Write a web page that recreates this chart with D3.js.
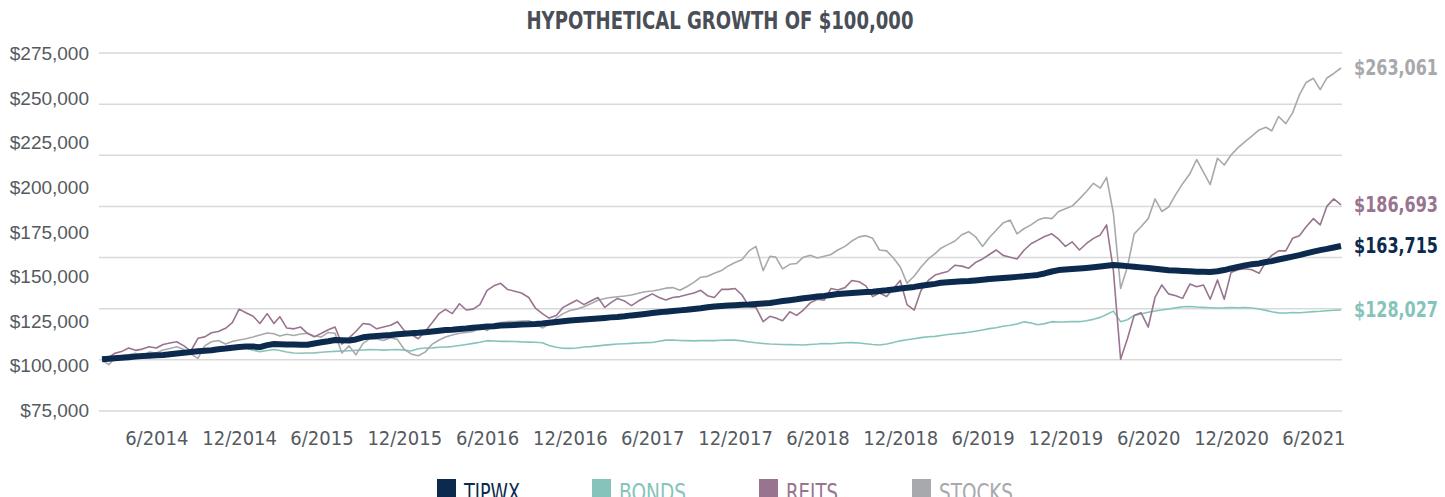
<!DOCTYPE html>
<html>
<head>
<meta charset="utf-8">
<script src="https://cdn.jsdelivr.net/npm/d3@7"></script>
<style>
  html, body { margin: 0; padding: 0; background: #fff; }
  svg { display: block; }
  .cond { font-family: "Liberation Sans Narrow", "DejaVu Sans Condensed", "Arial Narrow", sans-serif; }
</style>
</head>
<body>
<div id="graph"></div>
<script>
// Valeurs, en milliers de dollars, un point tous les demi-mois (fév. 2014 -> août 2021)

const seriesNames = ['TIPWX', 'BONDS', 'REITS', 'STOCKS']

const tipwx = [
  100.5,100.8,101.1,101.4,101.7,102.0,102.3,102.5,102.8,102.9,
  103.3,103.7,104.1,104.6,105.0,105.3,105.6,106.1,106.5,107.0,
  107.4,107.6,107.6,107.3,108.4,109.0,108.9,108.8,108.7,108.6,
  108.6,109.3,110.0,110.6,111.3,111.2,111.0,111.6,112.8,113.2,
  113.5,113.8,114.1,114.5,114.8,115.1,115.3,115.6,116.0,116.4,
  116.8,117.0,117.4,117.7,118.1,118.4,118.8,119.0,119.3,119.5,
  119.7,119.9,120.0,120.2,120.5,120.9,121.3,121.7,122.1,122.4,
  122.7,123.0,123.3,123.6,123.9,124.1,124.5,125.0,125.4,125.8,
  126.3,126.7,127.1,127.4,127.8,128.1,128.6,129.0,129.5,130.0,
  130.3,130.5,130.7,130.9,131.1,131.4,131.7,131.9,132.4,133.0,
  133.5,134.0,134.6,135.0,135.5,135.9,136.4,136.9,137.2,137.5,
  137.8,138.0,138.2,138.6,139.0,139.5,140.0,140.4,140.9,141.5,
  142.1,142.6,143.2,143.5,143.8,144.0,144.2,144.5,144.9,145.3,
  145.6,145.9,146.2,146.5,146.8,147.2,147.6,148.4,149.5,150.3,
  150.6,150.9,151.2,151.5,151.9,152.3,152.7,153.1,152.8,152.5,
  152.2,151.8,151.4,151.0,150.6,150.2,150.0,149.8,149.6,149.4,
  149.3,149.2,149.6,150.3,151.2,152.0,152.9,153.5,154.0,154.8,
  155.3,156.2,157.0,157.8,158.6,159.6,160.6,161.4,162.1,162.9,
  163.715
]

const bonds = [
  100.0,100.4,100.8,101.2,101.6,101.9,102.3,102.6,102.9,103.1,
  103.3,103.4,103.6,103.9,104.4,104.8,105.2,105.6,105.9,106.2,
  106.4,106.8,105.6,104.8,105.4,106.0,105.4,104.6,104.0,103.9,
  104.0,104.1,104.4,104.7,104.9,105.1,105.3,105.5,105.7,105.9,
  105.8,105.6,105.8,106.0,105.6,105.1,106.4,106.8,106.9,107.2,
  107.4,107.6,108.2,108.8,109.4,110.0,110.9,110.7,110.5,110.5,
  110.4,110.2,110.1,110.0,109.7,108.2,107.2,106.7,106.6,106.8,
  107.4,107.6,108.0,108.4,108.7,109.0,109.2,109.4,109.6,109.8,
  109.9,110.6,111.2,111.3,111.0,110.9,110.8,110.9,111.0,110.9,
  111.1,111.2,111.2,110.8,110.2,109.7,109.3,109.0,108.9,108.8,
  108.7,108.6,108.5,108.8,109.0,109.3,109.2,109.5,109.7,109.8,
  109.6,109.2,108.8,108.5,109.0,109.9,110.8,111.4,112.0,112.6,
  113.1,113.3,113.8,114.3,114.8,115.1,115.6,116.2,116.9,117.6,
  118.1,118.9,119.5,120.2,121.4,120.8,119.8,120.4,121.5,121.3,
  121.4,121.6,121.5,122.0,122.8,123.9,125.5,127.4,121.5,122.6,
  125.0,125.8,126.8,127.5,128.0,128.6,129.2,129.8,130.0,129.7,
  129.5,129.3,129.1,129.2,129.4,129.3,129.4,129.1,128.6,127.8,
  127.0,126.4,126.3,126.6,126.5,126.8,127.1,127.3,127.6,127.9,
  128.027
]

const reits = [
  100.0,101.5,103.8,104.8,106.8,105.5,106.2,107.5,106.8,108.8,
  109.6,110.3,108.0,105.0,112.2,113.0,115.3,116.0,117.8,121.0,
  128.5,126.5,124.5,120.5,126.0,120.5,124.3,118.0,117.5,118.5,
  115.0,113.0,115.0,117.0,118.5,109.0,112.5,116.0,120.5,120.0,
  117.5,118.5,119.5,121.5,116.5,114.5,112.0,116.0,121.0,126.0,
  128.4,126.0,131.5,128.0,128.5,131.0,139.0,141.5,142.9,139.5,
  138.5,137.5,135.0,129.0,126.0,123.5,125.0,129.5,131.5,133.5,
  131.0,133.0,135.0,129.5,132.0,134.5,133.0,130.5,133.0,135.0,
  137.0,135.0,133.6,135.0,135.5,136.5,137.5,139.0,136.0,135.0,
  139.5,139.5,140.0,136.5,129.9,129.5,121.5,124.5,123.5,122.0,
  127.0,125.0,128.0,132.0,134.0,133.5,140.0,139.2,140.5,144.5,
  143.8,141.5,135.5,137.5,135.5,140.0,144.5,131.0,128.0,139.0,
  144.5,147.5,148.5,149.5,153.0,152.5,151.3,154.5,156.5,159.0,
  161.5,158.5,157.5,156.5,161.5,165.0,167.0,169.0,170.5,167.5,
  163.5,166.0,161.5,165.0,168.0,169.9,175.5,150.0,100.5,112.0,
  125.0,126.5,118.5,135.0,142.0,137.0,136.0,134.5,142.5,141.0,
  142.0,134.0,144.8,134.0,149.0,150.5,151.0,150.5,148.5,155.0,
  158.5,161.0,161.0,168.0,169.5,174.5,179.0,175.5,186.0,190.0,
  186.693
]

const stocks = [
  100.0,97.5,101.0,102.5,103.0,103.9,102.5,104.5,104.0,105.7,
  106.5,107.5,106.0,103.5,101.0,108.0,110.3,111.0,109.0,110.5,
  111.3,112.0,113.0,114.1,115.2,114.8,113.5,114.5,113.8,114.6,
  115.0,113.5,113.0,115.5,115.0,104.0,108.0,103.0,109.4,112.0,
  111.8,111.0,112.5,111.5,106.0,103.5,102.5,104.5,109.0,111.3,
  113.0,114.1,115.0,115.5,116.0,118.5,116.5,120.3,121.0,121.5,
  121.5,121.8,122.0,120.5,118.0,120.0,123.5,126.0,127.7,128.5,
  129.8,131.5,133.4,134.4,135.0,135.4,135.8,136.4,137.4,138.2,
  138.6,139.3,140.2,140.5,139.0,141.0,143.4,146.3,146.8,148.5,
  150.0,152.6,154.5,156.0,161.0,163.5,150.0,158.0,157.5,151.0,
  153.5,154.0,157.5,158.5,157.0,158.0,159.0,161.5,163.5,166.5,
  168.8,169.5,168.0,161.5,161.0,157.0,152.0,143.0,147.0,152.0,
  156.5,159.5,162.5,164.5,166.5,170.0,171.7,169.0,163.5,168.5,
  172.5,176.5,178.2,170.5,173.5,175.5,178.2,179.5,179.0,183.0,
  184.5,186.0,190.0,194.0,198.7,196.0,202.0,182.0,140.0,152.0,
  170.5,174.5,179.0,190.0,183.0,185.5,192.5,198.5,204.0,212.0,
  205.0,198.0,212.7,208.9,214.5,218.5,222.0,225.0,228.5,230.0,
  228.0,236.0,232.0,238.0,248.0,255.0,257.3,251.0,257.5,260.0,
  263.061
]

const yTicks = [75, 100, 125, 150, 175, 200, 225, 250, 275]
const xTickLabels = ['6/2014','12/2014','6/2015','12/2015','6/2016','12/2016','6/2017',
  '12/2017','6/2018','12/2018','6/2019','12/2019','6/2020','12/2020','6/2021']

//---------------------------------------------------------------------------------------

// Dates : le 1er et le 16 de chaque mois

const dates = d3.utcMonth
  .range(new Date(Date.UTC(2014, 1, 1)), new Date(Date.UTC(2021, 8, 1)))
  .flatMap(m => [m, new Date(Date.UTC(m.getUTCFullYear(), m.getUTCMonth(), 16))])
  .slice(0, tipwx.length)

const palette = {
  'TIPWX': '#0c2a4d',
  'BONDS': '#86c4bb',
  'REITS': '#98748f',
  'STOCKS': '#a7a9ac'
}

const seriesData = {
  'TIPWX': tipwx,
  'BONDS': bonds,
  'REITS': reits,
  'STOCKS': stocks
}

//---------------------------------------------------------------------------------------

// Canevas SVG

const width = 1445
const height = 497

const svg = d3.select('#graph')
  .append('svg')
  .attr('width', width)
  .attr('height', height)
  .attr('viewBox', [0, 0, width, height])

// Échelles

const scaleX = d3.scaleUtc()
  .domain([dates[0], dates[dates.length - 1]])
  .range([102, 1341])

const scaleY = d3.scaleLinear()
  .domain([75, 275])
  .range([405, 46.6])

// les libellés de l'axe Y ne sont pas tout à fait alignés sur les données dans l'original
const scaleYLabels = d3.scaleLinear()
  .domain([75, 275])
  .range([410.5, 53.5])

// huit lignes de grille réparties sur la hauteur
const scaleGrid = d3.scaleLinear()
  .domain([0, 7])
  .range([411, 53])

//---------------------------------------------------------------------------------------

// Titre

svg.append('text')
  .attr('class', 'cond')
  .attr('x', 720)
  .attr('y', 29)
  .attr('text-anchor', 'middle')
  .attr('font-size', 25)
  .attr('font-weight', 'bold')
  .attr('fill', '#4a4e57')
  .attr('textLength', 387)
  .attr('lengthAdjust', 'spacingAndGlyphs')
  .text('HYPOTHETICAL GROWTH OF $100,000')

// Grille

svg.append('g')
  .attr('class', 'grid')
  .selectAll('line')
  .data(d3.range(8))
  .join('line')
  .attr('x1', 99)
  .attr('x2', 1342)
  .attr('y1', d => scaleGrid(d))
  .attr('y2', d => scaleGrid(d))
  .attr('stroke', '#d9d9d9')
  .attr('stroke-width', 1.5)

// Axe Y

const axisY = svg.append('g')
  .attr('transform', 'translate(89,0)')
  .call(d3.axisLeft(scaleYLabels)
    .tickValues(yTicks)
    .tickSize(0)
    .tickPadding(0)
    .tickFormat(d => d3.format('$,')(d * 1000)))

axisY.select('.domain').remove()
axisY.selectAll('text')
  .attr('font-family', '"Liberation Sans", Arial, sans-serif')
  .attr('font-size', 19)
  .attr('fill', '#555a60')

// Axe X

const parseMonth = d3.utcParse('%m/%Y')

const axisX = svg.append('g')
  .attr('transform', 'translate(0,424)')
  .call(d3.axisBottom(scaleX)
    .tickValues(xTickLabels.map(parseMonth))
    .tickSize(0)
    .tickFormat(d3.utcFormat('%-m/%Y')))

axisX.select('.domain').remove()
axisX.selectAll('text')
  .attr('class', 'cond')
  .attr('y', 14)
  .attr('dy', '0.35em')
  .attr('font-size', 20)
  .attr('fill', '#555a60')

//---------------------------------------------------------------------------------------

// Courbes

const line = d3.line()
  .x((d, i) => scaleX(dates[i]))
  .y(d => scaleY(d))

const drawOrder = ['BONDS', 'STOCKS', 'REITS', 'TIPWX']

svg.append('g')
  .attr('class', 'courbes')
  .selectAll('path')
  .data(drawOrder)
  .join('path')
  .attr('d', d => line(seriesData[d]))
  .attr('fill', 'none')
  .attr('stroke', d => palette[d])
  .attr('stroke-width', d => d === 'TIPWX' ? 6 : 1.6)
  .attr('stroke-linejoin', 'round')

// Valeurs finales

svg.append('g')
  .attr('class', 'labels')
  .selectAll('text')
  .data(seriesNames)
  .join('text')
  .attr('class', 'cond')
  .attr('x', 1354)
  .attr('y', d => scaleY(seriesData[d][seriesData[d].length - 1]))
  .attr('dy', '0.35em')
  .attr('font-size', 21)
  .attr('font-weight', 'bold')
  .attr('fill', d => palette[d])
  .attr('textLength', 84)
  .attr('lengthAdjust', 'spacingAndGlyphs')
  .text(d => d3.format('$,.0f')(seriesData[d][seriesData[d].length - 1] * 1000))

//---------------------------------------------------------------------------------------

// Légende

const legendX = [437, 592, 759, 912]
const legendTextWidth = [56, 67, 52, 74]

const legend = svg.append('g')
  .attr('class', 'legende')
  .selectAll('g')
  .data(seriesNames)
  .join('g')
  .attr('transform', (d, i) => `translate(${legendX[i]},0)`)

legend.append('rect')
  .attr('y', 479)
  .attr('width', 19)
  .attr('height', 19)
  .attr('fill', d => palette[d])

legend.append('text')
  .attr('class', 'cond')
  .attr('x', 27)
  .attr('y', 501)
  .attr('font-size', 25)
  .attr('fill', d => palette[d])
  .attr('textLength', (d, i) => legendTextWidth[i])
  .attr('lengthAdjust', 'spacingAndGlyphs')
  .text(d => d)
</script>
</body>
</html>
